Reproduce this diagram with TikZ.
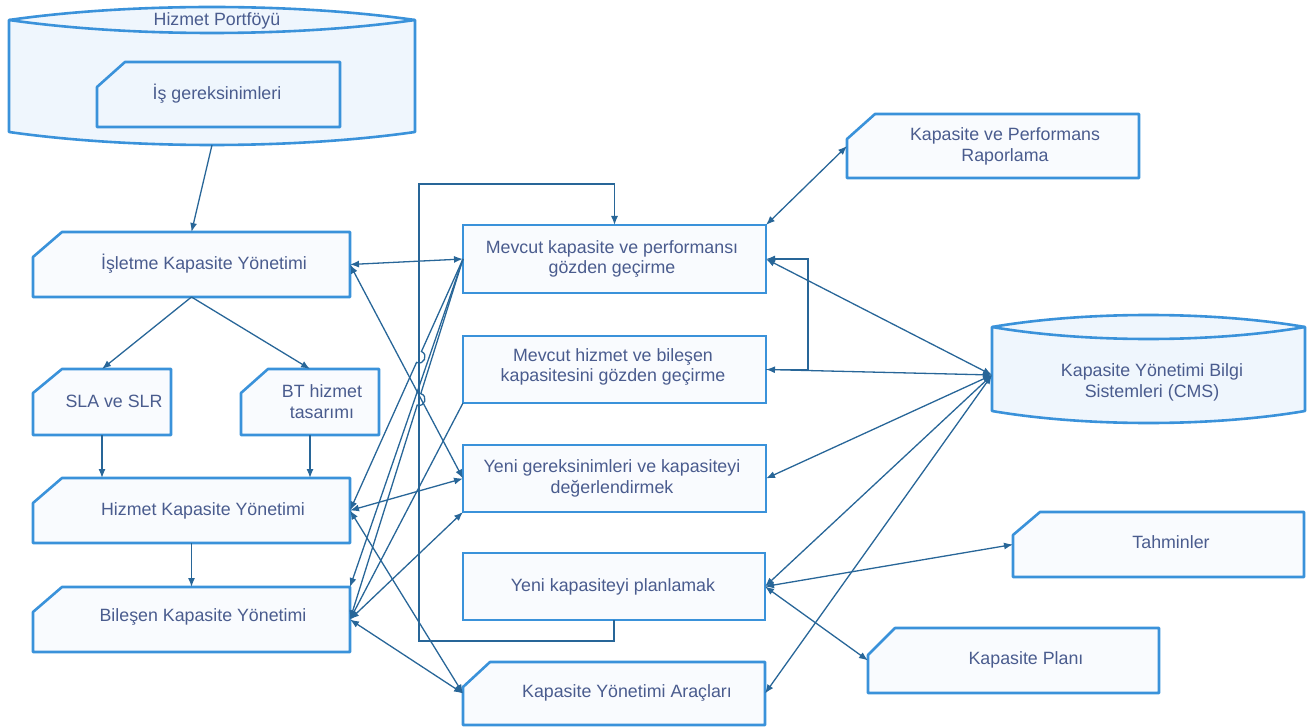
\documentclass[tikz,border=0pt]{standalone}
\usepackage{fontspec}
\setmainfont{Liberation Sans}
\usetikzlibrary{calc,arrows.meta}

\definecolor{boxc}{RGB}{58,146,218}
\definecolor{linec}{RGB}{40,102,152}
\definecolor{textc}{RGB}{74,92,142}
\definecolor{fillw}{RGB}{249,251,254}
\definecolor{fillb}{RGB}{239,246,253}

\tikzset{
  boxnode/.style={inner sep=0pt, outer sep=0pt},
  boxline/.style={draw=boxc, line width=2.6pt, line join=round, fill=fillw},
  plainbox/.style={boxnode, draw=boxc, line width=2.6pt, fill=fillw},
  label text/.style={inner sep=0pt, text=textc, align=center,
    font=\fontsize{17.8}{20.8}\selectfont},
  arr/.style={draw=linec, line width=1.3pt, -{Latex[length=9pt,width=7pt]}},
  darr/.style={draw=linec, line width=1.3pt, {Latex[length=9pt,width=7pt]}-{Latex[length=9pt,width=7pt]}},
  plainline/.style={draw=linec, line width=1.3pt}
}

% card outline with a cut top-left corner
\newcommand\cardoutline[4][fillw]{%
  \draw[boxline, fill=#1] (#2.south west) -- ([yshift=-#4pt]#2.north west)
    -- ([xshift=#3pt]#2.north west) -- (#2.north east) -- (#2.south east) -- cycle;}

% barrel (horizontal cylinder) drawn over a node; #2 = sag of the arcs
\newcommand\barrel[2]{%
  \path (#1.north west) ++(0,#2) coordinate (#1-tl)
        (#1.north east) ++(0,#2) coordinate (#1-tr)
        (#1.south west) ++(0,-#2) coordinate (#1-bl)
        (#1.south east) ++(0,-#2) coordinate (#1-br);
  \draw[boxline, fill=fillb]
    (#1-tl) .. controls ($(#1-tl)!0.3!(#1-tr)+(0,-1.333*#2)$) and ($(#1-tl)!0.7!(#1-tr)+(0,-1.333*#2)$) .. (#1-tr)
    -- (#1-br)
    .. controls ($(#1-bl)!0.7!(#1-br)+(0,1.333*#2)$) and ($(#1-bl)!0.3!(#1-br)+(0,1.333*#2)$) .. (#1-bl)
    -- cycle;
  \draw[boxline, fill=none]
    (#1-tl) .. controls ($(#1-tl)!0.3!(#1-tr)+(0,1.333*#2)$) and ($(#1-tl)!0.7!(#1-tr)+(0,1.333*#2)$) .. (#1-tr);}

\begin{document}
\begin{tikzpicture}[x=1pt,y=-1pt]
\useasboundingbox (0,0) rectangle (1316,727);

% ---------- shapes ----------
\node[boxnode, minimum width=406pt, minimum height=138pt] (hp) at (212,76) {};
\barrel{hp}{13}
\node[boxnode, minimum width=243pt, minimum height=65pt] (is) at (218.5,94.5) {};
\cardoutline[fillb]{is}{28}{25}

\node[boxnode, minimum width=317pt, minimum height=65pt] (ik) at (191.5,264.5) {};
\cardoutline{ik}{29}{25}
\node[boxnode, minimum width=138pt, minimum height=66pt] (sla) at (102,402) {};
\cardoutline{sla}{29}{24}
\node[boxnode, minimum width=138pt, minimum height=66pt] (bt) at (310,402) {};
\cardoutline{bt}{27}{24}
\node[boxnode, minimum width=317pt, minimum height=65pt] (hk) at (191.5,510.5) {};
\cardoutline{hk}{29}{25}
\node[boxnode, minimum width=317pt, minimum height=65pt] (bk) at (191.5,619.5) {};
\cardoutline{bk}{29}{25}

\node[plainbox, minimum width=303pt, minimum height=68pt] (mk) at (614.5,259) {};
\node[plainbox, minimum width=303pt, minimum height=67pt] (mh) at (614.5,369.5) {};
\node[plainbox, minimum width=303pt, minimum height=67pt] (yg) at (614.5,478.5) {};
\node[plainbox, minimum width=302pt, minimum height=67pt] (yp) at (614,586.5) {};
\node[boxnode, minimum width=302pt, minimum height=63pt] (ar) at (614,693.5) {};
\cardoutline{ar}{27}{25}

\node[boxnode, minimum width=292pt, minimum height=64pt] (kp) at (993,146) {};
\cardoutline{kp}{28}{25}
\node[boxnode, minimum width=313pt, minimum height=108pt] (cms) at (1148.5,369) {};
\barrel{cms}{12}
\node[boxnode, minimum width=291pt, minimum height=65pt] (th) at (1158.5,544.5) {};
\cardoutline{th}{27}{23}
\node[boxnode, minimum width=291pt, minimum height=65pt] (pl) at (1013.5,660.5) {};
\cardoutline{pl}{27}{27}

% ---------- free points ----------
\coordinate (cmsin) at ([yshift=-6pt]cms.west);
\coordinate (loopbl) at (419,641);
\coordinate (looptl) at (419,184);

% ---------- connectors ----------
\draw[arr] (hp.south) -- (ik.north);
\draw[arr] (ik.south) -- (sla.north);
\draw[arr] (ik.south) -- (bt.north);
\draw[arr] (sla.south) -- (sla.south |- hk.north);
\draw[arr] (bt.south) -- (bt.south |- hk.north);
\draw[arr] (hk.south) -- (bk.north);

% feedback loop from planning back to review
\draw[arr] (yp.south) |- (loopbl) -- (looptl) -| (mk.north);

\draw[darr] (ik.east) -- (mk.west);
\draw[darr] (ik.east) -- (yg.west);

% lines hopping over the loop
\coordinate (h1c) at ($(mk.west)!0.3894!(hk.east)$);
\coordinate (h1a) at ($(h1c)!6pt!(mk.west)$);
\coordinate (h1b) at ($(h1c)!6pt!(hk.east)$);
\draw[arr] (mk.west) -- (h1a)
  .. controls ($(h1a)!8pt!90:(h1b)$) and ($(h1b)!8pt!-90:(h1a)$) .. (h1b) -- (hk.east);
\draw[arr] (mk.west) -- (bk.north east);
\coordinate (h2c) at ($(mk.west)!0.3894!(bk.east)$);
\coordinate (h2a) at ($(h2c)!6pt!(mk.west)$);
\coordinate (h2b) at ($(h2c)!6pt!(bk.east)$);
\draw[arr] (mk.west) -- (h2a)
  .. controls ($(h2a)!8pt!90:(h2b)$) and ($(h2b)!8pt!-90:(h2a)$) .. (h2b) -- (bk.east);
\draw[arr] (mh.south west) -- (bk.east);

\draw[darr] (hk.east) -- (yg.west);
\draw[darr] (hk.east) -- (ar.west);
\draw[darr] (bk.east) -- (yg.south west);
\draw[darr] (bk.east) -- (ar.west);

% right side
\draw[darr] (mk.north east) -- (kp.west);
\draw[darr] (cmsin) -- (mk.east);
\draw[darr] (cmsin) -- (mh.east);
\draw[arr] (mh.east) -- ++(42,0) |- (mk.east);
\draw[darr] (cmsin) -- (yg.east);
\draw[darr] (cmsin) -- (yp.east);
\draw[darr] (cmsin) -- (ar.east);
\draw[darr] (yp.east) -- (th.west);
\draw[darr] (yp.east) -- (pl.west);

% ---------- texts ----------
\node[label text] (hp-t) at (217,21) {Hizmet Portföyü};
\node[label text] (is-t) at (217,94) {İş gereksinimleri};
\node[label text] (ik-t) at (204,264) {İşletme Kapasite Yönetimi};
\node[label text] (sla-t) at (114,401) {SLA ve SLR};
\node[label text] (bt-t) at (322,402) {BT hizmet\\tasarımı};
\node[label text] (hk-t) at (203,511) {Hizmet Kapasite Yönetimi};
\node[label text] (bk-t) at (203,617) {Bileşen Kapasite Yönetimi};
\node[label text] (mk-t) at (612,259) {Mevcut kapasite ve performansı\\gözden geçirme};
\node[label text] (mh-t) at (613,367) {Mevcut hizmet ve bileşen\\kapasitesini gözden geçirme};
\node[label text] (yg-t) at (612,478) {Yeni gereksinimleri ve kapasiteyi\\değerlendirmek};
\node[label text] (yp-t) at (613,587) {Yeni kapasiteyi planlamak};
\node[label text] (ar-t) at (627,693) {Kapasite Yönetimi Araçları};
\node[label text] (kp-t) at (1005,146) {Kapasite ve Performans\\Raporlama};
\node[label text] (th-t) at (1171,542) {Tahminler};
\node[label text] (pl-t) at (1026,660) {Kapasite Planı};
\node[label text] (cms-t) at (1152,382) {Kapasite Yönetimi Bilgi\\Sistemleri (CMS)};
\end{tikzpicture}
\end{document}
